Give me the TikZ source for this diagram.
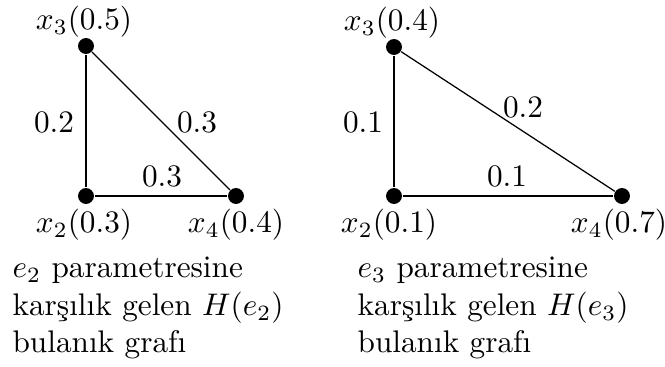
\documentclass[tikz,border=0pt]{standalone}
\begin{document}
\begin{tikzpicture}[x=0.32pt,y=-0.32pt,
  vertex/.style={circle,fill=black,inner sep=0pt,minimum size=5.1pt},
  edge/.style={draw=black,line width=0.4pt},
  lbl/.style={inner sep=0pt,anchor=base},
  captext/.style={inner sep=0pt,anchor=base west}]
\useasboundingbox (0,0) rectangle (665,367);
% left graph
\node[vertex] (a3) at (86,46) {};
\node[vertex] (a2) at (86,196) {};
\node[vertex] (a4) at (236,196) {};
\draw[edge] (a3) -- (a2);
\draw[edge] (a2) -- (a4);
\draw[edge] (a3) -- (a4);
\node[lbl] (la3) at (84,30) {$x_3(0.5)$};
\node[lbl] (la2) at (84,233) {$x_2(0.3)$};
\node[lbl] (la4) at (236,233) {$x_4(0.4)$};
\node[lbl] (ea32) at (54,133) {$0.2$};
\node[lbl] (ea34) at (197,133) {$0.3$};
\node[lbl] (ea24) at (162,187) {$0.3$};
\node[captext] (ca1) at (12,278) {$e_2$ parametresine};
\node[captext] (ca2) at (12,315.5) {karşılık gelen $H(e_2)$};
\node[captext] (ca3) at (12,353) {bulanık grafı};
% right graph
\node[vertex] (b3) at (394,47) {};
\node[vertex] (b2) at (394,196) {};
\node[vertex] (b4) at (622,196) {};
\draw[edge] (b3) -- (b2);
\draw[edge] (b2) -- (b4);
\draw[edge] (b3) -- (b4);
\node[lbl] (lb3) at (392,31) {$x_3(0.4)$};
\node[lbl] (lb2) at (389,233) {$x_2(0.1)$};
\node[lbl] (lb4) at (619,233) {$x_4(0.7)$};
\node[lbl] (eb32) at (363,133) {$0.1$};
\node[lbl] (eb34) at (523,118) {$0.2$};
\node[lbl] (eb24) at (507,187) {$0.1$};
\node[captext] (cb1) at (357,278) {$e_3$ parametresine};
\node[captext] (cb2) at (357,315.5) {karşılık gelen $H(e_3)$};
\node[captext] (cb3) at (357,353) {bulanık grafı};
\end{tikzpicture}
\end{document}
